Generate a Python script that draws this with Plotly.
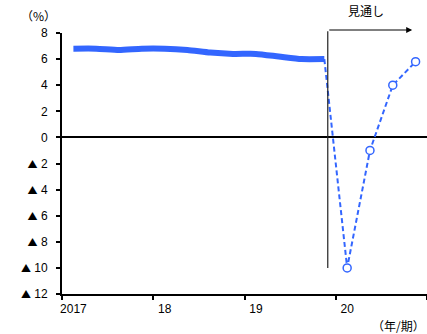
import plotly.graph_objects as go

quarters = ["2017Q1", "2017Q2", "2017Q3", "2017Q4",
            "2018Q1", "2018Q2", "2018Q3", "2018Q4",
            "2019Q1", "2019Q2", "2019Q3", "2019Q4",
            "2020Q1", "2020Q2", "2020Q3", "2020Q4"]
actual = [6.8, 6.8, 6.7, 6.8, 6.8, 6.7, 6.5, 6.4, 6.4, 6.2, 6.0, 6.0]
forecast_q = ["2019Q4", "2020Q1", "2020Q2", "2020Q3", "2020Q4"]
forecast = [6.0, -10.0, -1.0, 4.0, 5.8]
year_labels = ["2017", "18", "19", "20"]
year_label_q = ["2017Q1", "2018Q1", "2019Q1", "2020Q1"]
y_ticks = [8, 6, 4, 2, 0, -2, -4, -6, -8, -10, -12]

idx = {q: i for i, q in enumerate(quarters)}
TRI = "<span style='font-family:Noto Sans CJK JP;font-size:10px'>▲</span>&nbsp;"
y_text = [str(v) if v >= 0 else TRI + str(-v) for v in y_ticks]

BLUE = "#3366FF"
FONT = "Liberation Sans, Arial, Noto Sans CJK JP, sans-serif"
JFONT = "Noto Sans CJK JP, sans-serif"

fig = go.Figure()
fig.add_trace(go.Scatter(
    x=[idx[q] for q in quarters[:len(actual)]], y=actual, mode="lines",
    line=dict(color=BLUE, width=6, shape="spline", smoothing=0.6),
    showlegend=False, hoverinfo="skip"))
fig.add_trace(go.Scatter(
    x=[idx[q] for q in forecast_q], y=forecast, mode="lines",
    line=dict(color=BLUE, width=2, dash="5px,3px"), showlegend=False,
    hoverinfo="skip"))
fig.add_trace(go.Scatter(
    x=[idx[q] for q in forecast_q[1:]], y=forecast[1:], mode="markers",
    marker=dict(symbol="circle", size=8, color="white",
                line=dict(color=BLUE, width=1.5)),
    showlegend=False, hoverinfo="skip"))
fig.add_trace(go.Scatter(x=[None], y=[None], xaxis="x2", showlegend=False))

n = len(quarters)
boundaries = [i * 4 - 0.5 for i in range(n // 4 + 1)]
fig.update_layout(
    width=427, height=334,
    margin=dict(l=62, r=0, t=33, b=40),
    paper_bgcolor="white", plot_bgcolor="white",
    font=dict(family=FONT, size=12, color="black"),
    xaxis=dict(range=[-0.5, n - 0.5], tickvals=boundaries,
               ticktext=[""] * len(boundaries), ticks="outside", ticklen=4,
               tickwidth=1.5, tickcolor="black", showgrid=False,
               showline=True, linecolor="black", linewidth=2,
               zeroline=False),
    xaxis2=dict(range=[-0.5, n - 0.5], overlaying="x", side="bottom",
                tickvals=[idx[q] for q in year_label_q], ticktext=year_labels,
                ticks="", showgrid=False, showline=False, zeroline=False,
                tickfont=dict(size=12), ticklabelstandoff=6),
    yaxis=dict(range=[-12, 8], tickvals=y_ticks, ticktext=y_text,
               ticks="outside", ticklen=4, tickwidth=1.5, tickcolor="black",
               showgrid=False, showline=True, linecolor="black", linewidth=2,
               zeroline=True, zerolinecolor="black", zerolinewidth=1.5,
               ticklabelstandoff=6),
)

vx = 11.15
fig.add_annotation(x=vx, y=-10, ax=vx, ay=8.25, xref="x", yref="y",
                   axref="x", ayref="y", text="", showarrow=True,
                   arrowhead=0, arrowwidth=1.2, arrowcolor="#222222")
top_y = (334 - 40 - 30) / (334 - 33 - 40)
fig.add_annotation(x=14.85, y=top_y, ax=vx, ay=0, xref="x", yref="paper",
                   axref="x", ayref="pixel", text="", showarrow=True,
                   arrowhead=2, arrowsize=1.2, arrowwidth=1, arrowcolor="black")

pw, ph = 427 - 62, 334 - 33 - 40
def px_note(text, px, py):
    fig.add_annotation(xref="paper", yref="paper", x=(px - 62) / pw,
                       y=(334 - 40 - py) / ph, xanchor="center",
                       yanchor="middle", text=text, showarrow=False,
                       font=dict(family=JFONT, size=12, color="black"))

px_note("見通し", 366, 11)
px_note("（%）", 38, 15)
px_note("（年/期）", 398, 325)

fig.write_html("out.html")
